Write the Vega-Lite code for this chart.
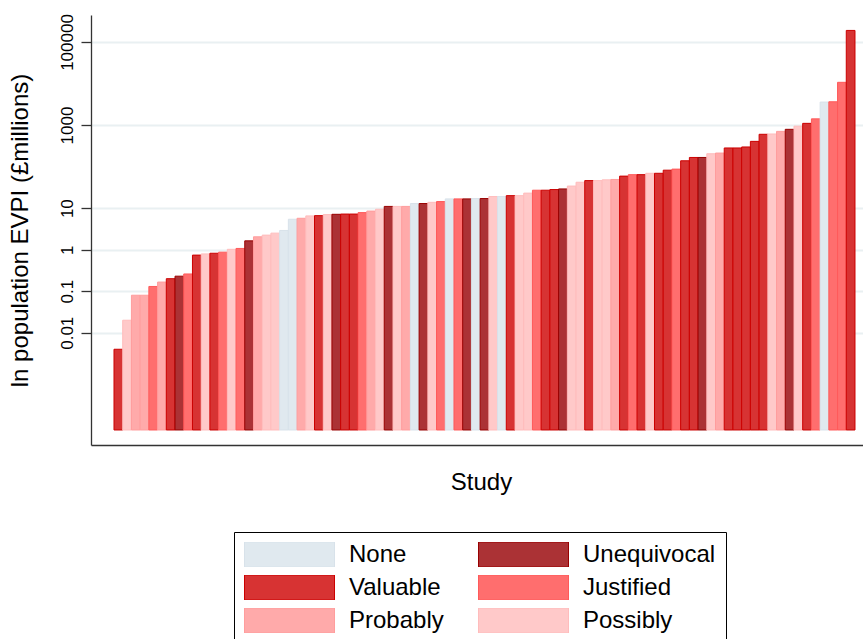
{
  "$schema": "https://vega.github.io/schema/vega-lite/v6.json",
  "width": 772,
  "height": 430,
  "autosize": "none",
  "padding": {"left": 91, "top": 15, "right": 0, "bottom": 194},
  "background": "white",
  "config": {
    "view": {"stroke": null},
    "font": "Liberation Sans",
    "axis": {"labelFont": "Liberation Sans", "titleFont": "Liberation Sans", "titleFontWeight": "normal"},
    "legend": {"labelFont": "Liberation Sans"}
  },
  "data": {
    "values": [
      {"study": 1, "evpi": 0.004, "level": "Valuable"},
      {"study": 2, "evpi": 0.02, "level": "Possibly"},
      {"study": 3, "evpi": 0.08, "level": "Probably"},
      {"study": 4, "evpi": 0.08, "level": "Probably"},
      {"study": 5, "evpi": 0.13, "level": "Justified"},
      {"study": 6, "evpi": 0.166, "level": "Probably"},
      {"study": 7, "evpi": 0.2, "level": "Valuable"},
      {"study": 8, "evpi": 0.23, "level": "Unequivocal"},
      {"study": 9, "evpi": 0.26, "level": "Justified"},
      {"study": 10, "evpi": 0.74, "level": "Valuable"},
      {"study": 11, "evpi": 0.79, "level": "Possibly"},
      {"study": 12, "evpi": 0.82, "level": "Valuable"},
      {"study": 13, "evpi": 0.87, "level": "Justified"},
      {"study": 14, "evpi": 1.02, "level": "Possibly"},
      {"study": 15, "evpi": 1.07, "level": "Justified"},
      {"study": 16, "evpi": 1.63, "level": "Unequivocal"},
      {"study": 17, "evpi": 2.04, "level": "Probably"},
      {"study": 18, "evpi": 2.24, "level": "Possibly"},
      {"study": 19, "evpi": 2.5, "level": "Possibly"},
      {"study": 20, "evpi": 2.9, "level": "None"},
      {"study": 21, "evpi": 5.4, "level": "None"},
      {"study": 22, "evpi": 5.7, "level": "Probably"},
      {"study": 23, "evpi": 6.5, "level": "Possibly"},
      {"study": 24, "evpi": 6.6, "level": "Valuable"},
      {"study": 25, "evpi": 7.0, "level": "Possibly"},
      {"study": 26, "evpi": 7.1, "level": "Unequivocal"},
      {"study": 27, "evpi": 7.2, "level": "Valuable"},
      {"study": 28, "evpi": 7.2, "level": "Valuable"},
      {"study": 29, "evpi": 7.8, "level": "Justified"},
      {"study": 30, "evpi": 8.5, "level": "Probably"},
      {"study": 31, "evpi": 9.4, "level": "Possibly"},
      {"study": 32, "evpi": 11, "level": "Unequivocal"},
      {"study": 33, "evpi": 11, "level": "Possibly"},
      {"study": 34, "evpi": 11, "level": "Probably"},
      {"study": 35, "evpi": 12.9, "level": "None"},
      {"study": 36, "evpi": 12.9, "level": "Unequivocal"},
      {"study": 37, "evpi": 13.8, "level": "Possibly"},
      {"study": 38, "evpi": 14.4, "level": "Justified"},
      {"study": 39, "evpi": 16.7, "level": "None"},
      {"study": 40, "evpi": 16.7, "level": "Justified"},
      {"study": 41, "evpi": 16.7, "level": "Unequivocal"},
      {"study": 42, "evpi": 17, "level": "None"},
      {"study": 43, "evpi": 17, "level": "Unequivocal"},
      {"study": 44, "evpi": 19, "level": "Possibly"},
      {"study": 45, "evpi": 19, "level": "None"},
      {"study": 46, "evpi": 20, "level": "Valuable"},
      {"study": 47, "evpi": 20, "level": "Possibly"},
      {"study": 48, "evpi": 23, "level": "Possibly"},
      {"study": 49, "evpi": 27, "level": "Justified"},
      {"study": 50, "evpi": 27, "level": "Valuable"},
      {"study": 51, "evpi": 28, "level": "Valuable"},
      {"study": 52, "evpi": 29, "level": "Unequivocal"},
      {"study": 53, "evpi": 34, "level": "Possibly"},
      {"study": 54, "evpi": 42, "level": "Possibly"},
      {"study": 55, "evpi": 46, "level": "Valuable"},
      {"study": 56, "evpi": 46, "level": "Possibly"},
      {"study": 57, "evpi": 48, "level": "Possibly"},
      {"study": 58, "evpi": 49, "level": "Probably"},
      {"study": 59, "evpi": 59, "level": "Valuable"},
      {"study": 60, "evpi": 64, "level": "Justified"},
      {"study": 61, "evpi": 64, "level": "Valuable"},
      {"study": 62, "evpi": 69, "level": "Possibly"},
      {"study": 63, "evpi": 69, "level": "Valuable"},
      {"study": 64, "evpi": 82, "level": "Valuable"},
      {"study": 65, "evpi": 87, "level": "Justified"},
      {"study": 66, "evpi": 138, "level": "Valuable"},
      {"study": 67, "evpi": 166, "level": "Valuable"},
      {"study": 68, "evpi": 166, "level": "Unequivocal"},
      {"study": 69, "evpi": 204, "level": "Possibly"},
      {"study": 70, "evpi": 212, "level": "Probably"},
      {"study": 71, "evpi": 281, "level": "Valuable"},
      {"study": 72, "evpi": 281, "level": "Valuable"},
      {"study": 73, "evpi": 297, "level": "Valuable"},
      {"study": 74, "evpi": 405, "level": "Valuable"},
      {"study": 75, "evpi": 600, "level": "Valuable"},
      {"study": 76, "evpi": 610, "level": "Possibly"},
      {"study": 77, "evpi": 705, "level": "Probably"},
      {"study": 78, "evpi": 790, "level": "Unequivocal"},
      {"study": 79, "evpi": 940, "level": "Possibly"},
      {"study": 80, "evpi": 1100, "level": "Valuable"},
      {"study": 81, "evpi": 1410, "level": "Justified"},
      {"study": 82, "evpi": 3580, "level": "None"},
      {"study": 83, "evpi": 3640, "level": "Justified"},
      {"study": 84, "evpi": 10700, "level": "Justified"},
      {"study": 85, "evpi": 190000, "level": "Valuable"}
    ]
  },
  "mark": {"type": "bar", "opacity": 1, "strokeWidth": 1},
  "encoding": {
    "x": {
      "field": "study",
      "type": "ordinal",
      "scale": {
        "domain": [-1, 0, 1, 2, 3, 4, 5, 6, 7, 8, 9, 10, 11, 12, 13, 14, 15, 16, 17, 18, 19, 20, 21, 22, 23, 24, 25, 26, 27, 28, 29, 30, 31, 32, 33, 34, 35, 36, 37, 38, 39, 40, 41, 42, 43, 44, 45, 46, 47, 48, 49, 50, 51, 52, 53, 54, 55, 56, 57, 58, 59, 60, 61, 62, 63, 64, 65, 66, 67, 68, 69, 70, 71, 72, 73, 74, 75, 76, 77, 78, 79, 80, 81, 82, 83, 84, 85],
        "paddingInner": 0,
        "paddingOuter": 0.778,
        "align": 0.41
      },
      "axis": {
        "title": "Study",
        "labels": false,
        "ticks": false,
        "grid": false,
        "domainColor": "#333333",
        "domainWidth": 1.3,
        "titleFontSize": 24,
        "titleColor": "black",
        "titleX": 390,
        "titleY": 44,
        "titleBaseline": "alphabetic",
        "titleAlign": "center"
      }
    },
    "y": {
      "field": "evpi",
      "type": "quantitative",
      "scale": {"type": "log", "domain": [0.0000198, 447000], "nice": false, "clamp": false},
      "axis": {
        "title": "ln population EVPI (£millions)",
        "values": [0.01, 0.1, 1, 10, 1000, 100000],
        "format": "~g",
        "labelAngle": -90,
        "labelAlign": "center",
        "labelBaseline": "alphabetic",
        "labelFontSize": 17,
        "labelColor": "black",
        "labelPadding": 9,
        "tickSize": 10,
        "tickColor": "#333333",
        "tickWidth": 1.3,
        "domainColor": "#333333",
        "domainWidth": 1.3,
        "grid": true,
        "gridColor": "#e9f0f2",
        "gridWidth": 2,
        "titleFontSize": 24,
        "titleColor": "black",
        "titleAngle": -90,
        "titleX": -64,
        "titleY": 215,
        "titleBaseline": "alphabetic",
        "titleAlign": "center"
      }
    },
    "y2": {"datum": 0.0000455},
    "fill": {
      "field": "level",
      "type": "nominal",
      "scale": {
        "domain": ["None", "Valuable", "Probably", "Unequivocal", "Justified", "Possibly"],
        "range": ["#e0e9ef", "#d73333", "#ffaaaa", "#ab3235", "#ff6e6e", "#ffc9c9"]
      },
      "legend": {
        "title": null,
        "orient": "none",
        "legendX": 143,
        "legendY": 517,
        "columns": 2,
        "columnPadding": 34,
        "rowPadding": 8,
        "padding": 10,
        "strokeColor": "black",
        "symbolType": "M-1,-0.2778L1,-0.2778L1,0.2778L-1,0.2778Z",
        "symbolSize": 8100,
        "symbolStrokeWidth": 1,
        "symbolOpacity": 1,
        "clipHeight": 25,
        "labelFontSize": 24,
        "labelColor": "black",
        "labelOffset": 14,
        "labelLimit": 300
      }
    },
    "stroke": {
      "field": "level",
      "type": "nominal",
      "scale": {
        "domain": ["None", "Valuable", "Probably", "Unequivocal", "Justified", "Possibly"],
        "range": ["#d8e2ea", "#cc0000", "#ff9d9d", "#990000", "#ff5a5a", "#ffbcbc"]
      }
    }
  }
}
